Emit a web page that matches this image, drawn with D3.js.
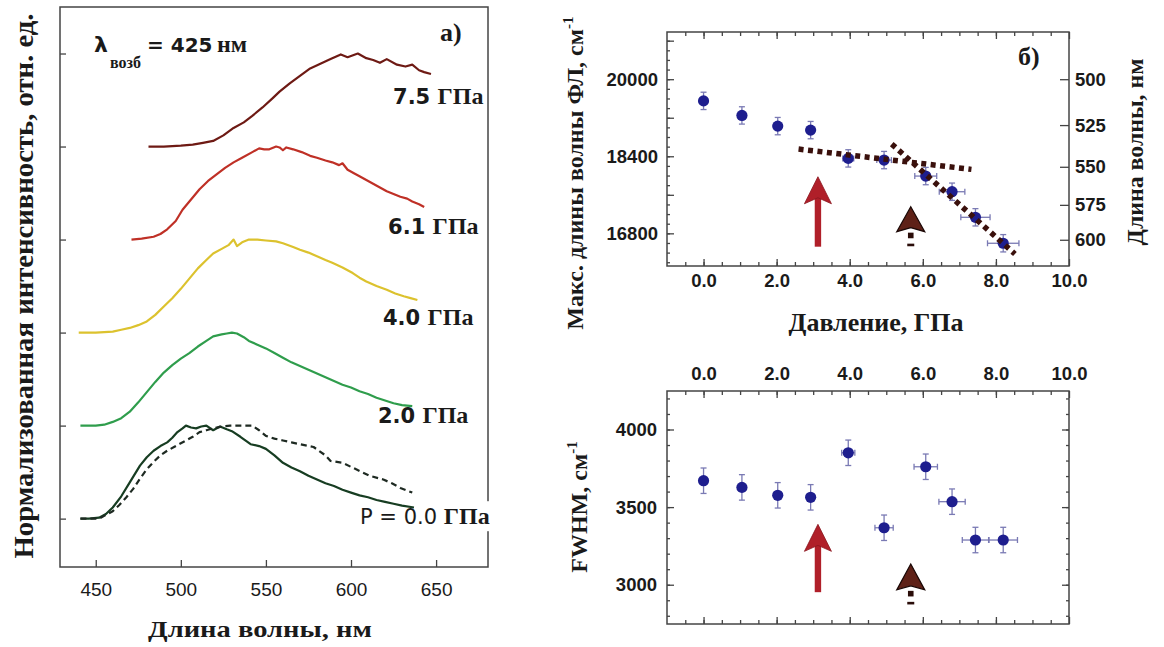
<!DOCTYPE html>
<html><head><meta charset="utf-8">
<script src="https://cdn.jsdelivr.net/npm/d3@7"></script>
<style>body{margin:0;background:#fff} svg{display:block}</style>
</head><body><svg id="c" width="1164" height="647"></svg>
<script>
// ---------------- DATA ----------------
// Panel a) normalized PL spectra (wavelength nm, normalized intensity)
const wl75 = [481,490,500,507,513,519,525,531,537,542,548,554,558,564,570,576,582,588,594,598,604,609,613,617,621,627,632,636,640,643,647];
const in75 = [0,0,0.01,0.02,0.04,0.06,0.12,0.2,0.26,0.33,0.42,0.52,0.59,0.68,0.76,0.84,0.89,0.94,0.99,0.96,1.0,0.95,0.93,0.9,0.94,0.88,0.86,0.88,0.82,0.8,0.78];
const wl61 = [471,477,484,488,492,497,501,506,511,516,521,526,531,536,542,546,549,552,556,558,560,562,566,571,576,580,585,589,593,595,598,602,605,609,613,617,621,625,629,633,636,640,643];
const in61 = [0,0.01,0.03,0.06,0.11,0.2,0.32,0.43,0.54,0.63,0.7,0.77,0.83,0.88,0.94,0.98,0.97,0.97,1.0,0.99,0.96,0.99,0.97,0.94,0.9,0.88,0.85,0.83,0.8,0.82,0.75,0.71,0.68,0.64,0.6,0.56,0.52,0.49,0.46,0.44,0.41,0.38,0.35];
const wl40 = [440,450,460,465,470,475,480,485,490,495,500,505,510,515,519,524,528,531,533,536,540,545,550,556,560,566,570,575,580,585,589,595,601,605,609,615,621,626,631,635,639];
const in40 = [0,0,0.01,0.03,0.05,0.08,0.12,0.19,0.28,0.37,0.47,0.58,0.69,0.78,0.85,0.9,0.94,1.0,0.93,0.97,1.0,1.0,0.99,0.98,0.96,0.92,0.89,0.86,0.82,0.78,0.75,0.7,0.64,0.59,0.55,0.5,0.46,0.42,0.39,0.37,0.35];
const wl20 = [441,450,455,460,465,470,475,480,485,490,495,500,505,510,515,519,524,527,530,533,537,540,545,550,555,560,565,570,575,580,585,590,595,600,605,610,615,620,625,630,636];
const in20 = [0,0,0.01,0.04,0.08,0.15,0.25,0.36,0.47,0.57,0.65,0.72,0.78,0.85,0.91,0.96,0.98,0.99,1.0,0.99,0.95,0.91,0.87,0.83,0.78,0.73,0.68,0.64,0.6,0.56,0.52,0.48,0.44,0.41,0.37,0.34,0.3,0.27,0.24,0.22,0.21];
const wl00 = [441,446,452,456,460,465,470,476,480,484,488,492,495,498,501,503,506,509,512,515,519,523,527,530,535,541,546,550,555,560,565,570,575,580,585,590,595,600,605,610,615,620,625,630,637];
const in00 = [0,0,0.01,0.05,0.12,0.24,0.39,0.57,0.66,0.73,0.78,0.82,0.87,0.93,0.97,1.0,0.98,0.97,0.99,1.0,0.95,0.99,0.96,0.94,0.88,0.8,0.78,0.75,0.68,0.6,0.55,0.51,0.46,0.42,0.38,0.35,0.31,0.28,0.25,0.23,0.2,0.18,0.16,0.14,0.12];
const wl00d = [441,452,456,460,464,468,472,476,480,484,488,492,496,500,503,507,511,515,519,524,529,535,542,546,550,555,560,565,570,578,585,588,595,603,611,619,624,629,636];
const in00d = [0,0,0.04,0.08,0.15,0.23,0.32,0.43,0.53,0.61,0.68,0.73,0.77,0.81,0.84,0.88,0.93,0.95,0.97,0.99,1.0,1.0,1.0,0.95,0.89,0.86,0.84,0.82,0.8,0.77,0.68,0.62,0.6,0.53,0.46,0.42,0.38,0.33,0.28];
const spectraLabels = ["7.5 ", "6.1 ", "4.0 ", "2.0 ", "P = 0.0  "];
const specXTicks = [450, 500, 550, 600, 650];
const specYTicks = [0, 1, 2, 3, 4, 5];

// Panel б) pressure dependence
const pressure = [0.0, 1.05, 2.03, 2.93, 3.96, 4.94, 6.08, 6.8, 7.44, 8.2];
const peakWN   = [19550, 19248, 19026, 18943, 18356, 18321, 17989, 17664, 17133, 16594];
const peakErrY = [180, 180, 180, 180, 180, 180, 180, 180, 180, 180];
const peakErrX = [0, 0, 0, 0, 0.15, 0.2, 0.3, 0.35, 0.4, 0.43];
const fwhm     = [3670, 3627, 3576, 3563, 3850, 3367, 3760, 3535, 3288, 3288];
const fwhmErrY = [82, 82, 82, 82, 82, 82, 82, 82, 82, 82];
const fwhmErrX = [0, 0, 0, 0, 0.18, 0.25, 0.32, 0.36, 0.36, 0.39];
const fit1P = [2.6, 7.33], fit1W = [18549, 18128];
const fit2P = [5.15, 8.52], fit2W = [18653, 16372];
const pTicks = [0, 2, 4, 6, 8, 10];
const pMinor = d3.range(-0.5, 10, 0.5);
const wnTicks = [16800, 17600, 18400, 19200, 20000, 20800];
const wnLabeled = [16800, 18400, 20000];
const wnMinor = d3.range(16200, 21000, 200);
const nmTicks = [500, 525, 550, 575, 600];
const fwTicks = [3000, 3500, 4000];
const fwMinor = d3.range(2800, 4250, 100);
// arrows: pressure, base/tip in data units
const redArrowP = 3.13, redTop = [16523, 17975], redBot = [2952, 3389];
const brownArrowP = 5.67, brownTop = [16835, 17353], brownBot = [2967, 3134];

// ---------------- DRAWING ----------------
const svg = d3.select('#c');
svg.append('rect').attr('width', 1164).attr('height', 647).attr('fill', '#fff');
const SERIF = '"Liberation Serif","Times New Roman",serif';
const SANS = '"Liberation Sans",Arial,sans-serif';
const DJV = '"DejaVu Sans",Verdana,sans-serif';
const FRAME = '#444';

function styleAxis(sel, size, weight) {
  sel.select('.domain').remove();
  sel.selectAll('.tick line').attr('stroke', FRAME).attr('stroke-width', 1.3);
  sel.selectAll('.tick text').attr('font-family', SANS).attr('font-size', size)
    .attr('font-weight', weight).attr('fill', '#1a1a1a');
}

// ===== Panel a =====
const xL = d3.scaleLinear().domain([429, 680.5]).range([60, 488]);
const yL = d3.scaleLinear().domain([-0.52, 5.5]).range([567, 7]);
const gL = svg.append('g');

gL.append('g').attr('transform', 'translate(0,567)')
  .call(d3.axisBottom(xL).tickValues(specXTicks).tickSize(-7).tickPadding(16).tickFormat(d3.format('d')))
  .call(styleAxis, 19, 'normal');
gL.append('g').attr('transform', 'translate(60,0)')
  .call(d3.axisLeft(yL).tickValues(specYTicks).tickSize(-6).tickFormat(''))
  .call(styleAxis, 19, 'normal');

const spectra = [
  {w: wl75, v: in75, color: '#6e1a14', dash: null},
  {w: wl61, v: in61, color: '#bf3026', dash: null},
  {w: wl40, v: in40, color: '#dcc22e', dash: null},
  {w: wl20, v: in20, color: '#2f9d4c', dash: null},
  {w: wl00, v: in00, color: '#173d22', dash: null},
  {w: wl00d, v: in00d, color: '#1e2a22', dash: '6,4'}
];
const offs = [4, 3, 2, 1, 0, 0];
spectra.forEach((s, i) => {
  const line = d3.line().x(d => xL(d[0])).y(d => yL(d[1] + offs[i]));
  gL.append('path').datum(d3.zip(s.w, s.v)).attr('d', line)
    .attr('fill', 'none').attr('stroke', s.color).attr('stroke-width', 2.2)
    .attr('stroke-linejoin', 'round')
    .attr('stroke-dasharray', s.dash);
});

// frame
gL.append('rect').attr('x', 60).attr('y', 7).attr('width', 428).attr('height', 560)
  .attr('fill', 'none').attr('stroke', FRAME).attr('stroke-width', 1.5);

// curve labels (positions in data space)
const labelPos = [[624.7, 4.46], [621.8, 3.06], [618.8, 2.08], [615.8, 1.03], [605.3, -0.06]];
spectraLabels.forEach((t, i) => {
  const txt = gL.append('text').attr('x', xL(labelPos[i][0])).attr('y', yL(labelPos[i][1]));
  txt.append('tspan').attr('font-family', DJV).attr('font-size', 21)
    .attr('font-weight', i === 4 ? 'normal' : 'bold').attr('fill', '#1a1a1a').text(t);
  txt.append('tspan').attr('font-family', SERIF).attr('font-size', 24)
    .attr('font-weight', 'bold').attr('fill', '#1a1a1a').text('ГПа');
  if (i === 4) {
    const bb = txt.node().getBBox();
    gL.insert('rect', () => txt.node()).attr('x', bb.x + bb.width - 14).attr('y', bb.y - 2)
      .attr('width', 20).attr('height', bb.height + 4).attr('fill', '#fff');
  }
});

// lambda annotation
const lam = gL.append('text').attr('fill', '#1a1a1a');
lam.append('tspan').attr('x', 94).attr('y', 52).attr('font-family', DJV).attr('font-weight', 'bold').attr('font-size', 22).text('λ');
lam.append('tspan').attr('x', 110).attr('y', 68).attr('font-family', SERIF).attr('font-weight', 'bold').attr('font-size', 16).text('возб');
lam.append('tspan').attr('x', 147).attr('y', 52).attr('font-family', DJV).attr('font-weight', 'bold').attr('font-size', 20).text('= 425');
lam.append('tspan').attr('x', 217).attr('y', 52).attr('font-family', SERIF).attr('font-weight', 'bold').attr('font-size', 24).text('нм');

gL.append('text').attr('x', 440).attr('y', 41).attr('font-family', SERIF).attr('font-weight', 'bold')
  .attr('font-size', 26).attr('fill', '#1a1a1a').text('а)');

gL.append('text').attr('x', 260).attr('y', 637).attr('text-anchor', 'middle')
  .attr('font-family', SERIF).attr('font-weight', 'bold').attr('font-size', 24)
  .attr('textLength', 224).attr('lengthAdjust', 'spacingAndGlyphs').attr('fill', '#1a1a1a')
  .text('Длина волны, нм');
gL.append('text').attr('transform', 'translate(33,286) rotate(-90)').attr('text-anchor', 'middle')
  .attr('font-family', SERIF).attr('font-weight', 'bold').attr('font-size', 27)
  .attr('textLength', 545).attr('lengthAdjust', 'spacingAndGlyphs').attr('fill', '#1a1a1a')
  .text('Нормализованная интенсивность, отн. ед.');

// ===== Panel б shared =====
const x0 = 667, x1 = 1069;
function upArrowRed(g, x, yBase, yTip) {
  const hw = 13.5, hh = 27, notch = 6, sw = 3.2;
  g.append('rect').attr('x', x - sw).attr('y', yTip + hh - notch - 1).attr('width', sw * 2)
    .attr('height', yBase - (yTip + hh - notch - 1)).attr('fill', '#b01f29');
  const p = d3.path();
  p.moveTo(x, yTip); p.lineTo(x + hw, yTip + hh); p.lineTo(x, yTip + hh - notch);
  p.lineTo(x - hw, yTip + hh); p.closePath();
  g.append('path').attr('d', p.toString()).attr('fill', '#b01f29').attr('stroke', '#8a1620').attr('stroke-width', 0.8);
}
function upArrowBrown(g, x, yBarb, yTip) {
  const hw = 14, notch = 4;
  const p = d3.path();
  p.moveTo(x, yTip); p.lineTo(x + hw, yBarb); p.lineTo(x, yBarb - notch);
  p.lineTo(x - hw, yBarb); p.closePath();
  g.append('path').attr('d', p.toString()).attr('fill', '#5e2117').attr('stroke', '#1a0806').attr('stroke-width', 1.2);
  g.append('rect').attr('x', x - 2.8).attr('y', yBarb + 1).attr('width', 5.6).attr('height', 5.6).attr('fill', '#2a0d09');
  g.append('rect').attr('x', x - 3.5).attr('y', yBarb + 12).attr('width', 7).attr('height', 2.6).attr('fill', '#2a0d09');
}
function errPoints(g, xs, ys, xsc, ysc, ex, ey) {
  const col = '#7a7ab4';
  xs.forEach((p, i) => {
    const cx = xsc(p), cy = ysc(ys[i]);
    const yt = ysc(ys[i] + ey[i]), yb = ysc(ys[i] - ey[i]);
    g.append('line').attr('x1', cx).attr('x2', cx).attr('y1', yt).attr('y2', yb).attr('stroke', col).attr('stroke-width', 1.3);
    g.append('line').attr('x1', cx - 3).attr('x2', cx + 3).attr('y1', yt).attr('y2', yt).attr('stroke', col).attr('stroke-width', 1.3);
    g.append('line').attr('x1', cx - 3).attr('x2', cx + 3).attr('y1', yb).attr('y2', yb).attr('stroke', col).attr('stroke-width', 1.3);
    if (ex[i] > 0) {
      const xl = xsc(p - ex[i]), xr = xsc(p + ex[i]);
      g.append('line').attr('x1', xl).attr('x2', xr).attr('y1', cy).attr('y2', cy).attr('stroke', col).attr('stroke-width', 1.3);
      g.append('line').attr('x1', xl).attr('x2', xl).attr('y1', cy - 3).attr('y2', cy + 3).attr('stroke', col).attr('stroke-width', 1.3);
      g.append('line').attr('x1', xr).attr('x2', xr).attr('y1', cy - 3).attr('y2', cy + 3).attr('stroke', col).attr('stroke-width', 1.3);
    }
  });
  g.selectAll(null).data(d3.zip(xs, ys)).join('circle')
    .attr('cx', d => xsc(d[0])).attr('cy', d => ysc(d[1])).attr('r', 5.6).attr('fill', '#1e1e8e');
}

// ===== Panel б top =====
const xT = d3.scaleLinear().domain([-1, 10]).range([x0, x1]);
const yT = d3.scaleLinear().domain([16122, 20980]).range([266, 32]);
const gT = svg.append('g');
gT.append('g').attr('transform', 'translate(0,266)')
  .call(d3.axisBottom(xT).tickValues(pMinor).tickSize(-4).tickFormat('')).call(styleAxis, 18, 'bold');
gT.append('g').attr('transform', 'translate(0,266)')
  .call(d3.axisBottom(xT).tickValues(pTicks).tickSize(-7).tickPadding(8).tickFormat(d3.format('.1f')))
  .call(styleAxis, 18.5, 'bold');
gT.append('g').attr('transform', 'translate(0,32)')
  .call(d3.axisTop(xT).tickValues(pMinor).tickSize(-4).tickFormat('')).call(styleAxis, 18, 'bold');
gT.append('g').attr('transform', 'translate(0,32)')
  .call(d3.axisTop(xT).tickValues(pTicks).tickSize(-7).tickFormat('')).call(styleAxis, 18, 'bold');
gT.append('g').attr('transform', `translate(${x0},0)`)
  .call(d3.axisLeft(yT).tickValues(wnMinor).tickSize(-3).tickFormat('')).call(styleAxis, 18, 'bold');
gT.append('g').attr('transform', `translate(${x0},0)`)
  .call(d3.axisLeft(yT).tickValues(wnTicks).tickSize(-7).tickPadding(9)
    .tickFormat(d => wnLabeled.includes(d) ? d3.format('d')(d) : ''))
  .call(styleAxis, 18.5, 'bold');
gT.append('g').attr('transform', `translate(${x1},0)`)
  .call(d3.axisRight(yT).tickValues(nmTicks.map(n => 1e7 / n)).tickSize(-9).tickPadding(6)
    .tickFormat((d, i) => nmTicks[i]))
  .call(styleAxis, 18.5, 'bold');
gT.append('rect').attr('x', x0).attr('y', 32).attr('width', x1 - x0).attr('height', 234)
  .attr('fill', 'none').attr('stroke', FRAME).attr('stroke-width', 1.5);

errPoints(gT, pressure, peakWN, xT, yT, peakErrX, peakErrY);
[[fit1P, fit1W], [fit2P, fit2W]].forEach(f => {
  gT.append('path').datum(d3.zip(f[0], f[1]))
    .attr('d', d3.line().x(d => xT(d[0])).y(d => yT(d[1])))
    .attr('fill', 'none').attr('stroke', '#3a100c').attr('stroke-width', 5.5).attr('stroke-dasharray', '5,4.5');
});
upArrowRed(gT, xT(redArrowP), yT(redTop[0]), yT(redTop[1]));
upArrowBrown(gT, xT(brownArrowP), yT(brownTop[0]), yT(brownTop[1]));

gT.append('text').attr('x', 1018).attr('y', 65).attr('font-family', SERIF).attr('font-weight', 'bold')
  .attr('font-size', 26).attr('fill', '#1a1a1a').text('б)');
gT.append('text').attr('x', 876).attr('y', 331).attr('text-anchor', 'middle')
  .attr('font-family', SERIF).attr('font-weight', 'bold').attr('font-size', 26).attr('fill', '#1a1a1a')
  .text('Давление, ГПа');
const yLabT = gT.append('text').attr('transform', 'translate(583,173) rotate(-90)').attr('text-anchor', 'middle')
  .attr('font-family', SERIF).attr('font-weight', 'bold').attr('font-size', 24).attr('fill', '#1a1a1a');
yLabT.append('tspan').text('Макс. длины волны ФЛ, см');
yLabT.append('tspan').attr('font-size', 15).attr('dy', -10).text('-1');
gT.append('text').attr('transform', 'translate(1143,152) rotate(-90)').attr('text-anchor', 'middle')
  .attr('font-family', SERIF).attr('font-weight', 'bold').attr('font-size', 24)
  .attr('textLength', 187).attr('lengthAdjust', 'spacingAndGlyphs').attr('fill', '#1a1a1a')
  .text('Длина волны, нм');

// ===== Panel б bottom =====
const yB = d3.scaleLinear().domain([2747, 4248]).range([624, 391]);
const xB = d3.scaleLinear().domain([-1, 10]).range([x0, x1]);
const gB = svg.append('g');
gB.append('g').attr('transform', 'translate(0,391)')
  .call(d3.axisTop(xB).tickValues(pMinor).tickSize(-4).tickFormat('')).call(styleAxis, 18, 'bold');
gB.append('g').attr('transform', 'translate(0,391)')
  .call(d3.axisTop(xB).tickValues(pTicks).tickSize(-7).tickPadding(11).tickFormat(d3.format('.1f')))
  .call(styleAxis, 18.5, 'bold');
gB.append('g').attr('transform', 'translate(0,624)')
  .call(d3.axisBottom(xB).tickValues(pMinor).tickSize(-4).tickFormat('')).call(styleAxis, 18, 'bold');
gB.append('g').attr('transform', 'translate(0,624)')
  .call(d3.axisBottom(xB).tickValues(pTicks).tickSize(-7).tickFormat('')).call(styleAxis, 18, 'bold');
gB.append('g').attr('transform', `translate(${x0},0)`)
  .call(d3.axisLeft(yB).tickValues(fwMinor).tickSize(-3).tickFormat('')).call(styleAxis, 18, 'bold');
gB.append('g').attr('transform', `translate(${x0},0)`)
  .call(d3.axisLeft(yB).tickValues(fwTicks).tickSize(-7).tickPadding(10).tickFormat(d3.format('d')))
  .call(styleAxis, 18.5, 'bold');
gB.append('g').attr('transform', `translate(${x1},0)`)
  .call(d3.axisRight(yB).tickValues(fwMinor).tickSize(-3).tickFormat('')).call(styleAxis, 18, 'bold');
gB.append('g').attr('transform', `translate(${x1},0)`)
  .call(d3.axisRight(yB).tickValues(fwTicks).tickSize(-7).tickFormat('')).call(styleAxis, 18, 'bold');
gB.append('rect').attr('x', x0).attr('y', 391).attr('width', x1 - x0).attr('height', 233)
  .attr('fill', 'none').attr('stroke', FRAME).attr('stroke-width', 1.5);

errPoints(gB, pressure, fwhm, xB, yB, fwhmErrX, fwhmErrY);
upArrowRed(gB, xB(redArrowP), yB(redBot[0]), yB(redBot[1]));
upArrowBrown(gB, xB(brownArrowP), yB(brownBot[0]), yB(brownBot[1]));

const yLabB = gB.append('text').attr('transform', 'translate(587,507) rotate(-90)').attr('text-anchor', 'middle')
  .attr('font-family', SERIF).attr('font-weight', 'bold').attr('font-size', 24).attr('fill', '#1a1a1a');
yLabB.append('tspan').text('FWHM, см');
yLabB.append('tspan').attr('font-size', 15).attr('dy', -10).text('-1');
</script></body></html>
